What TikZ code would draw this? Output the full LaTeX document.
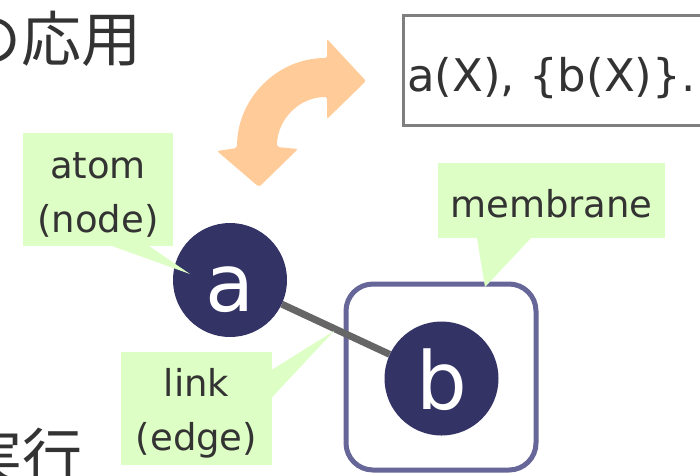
\documentclass[tikz,border=0pt]{standalone}
\usepackage{fontspec}
\setmainfont{DejaVu Sans}
\newfontfamily\cjkfont{Noto Sans CJK JP}
\usetikzlibrary{backgrounds,calc}
\definecolor{inktext}{HTML}{333333}
\definecolor{navy}{HTML}{333366}
\definecolor{membranec}{HTML}{666699}
\definecolor{linkgray}{HTML}{666666}
\definecolor{notegreen}{RGB}{221,254,196}
\definecolor{peach}{RGB}{255,204,153}
\definecolor{boxgray}{HTML}{7F7F7F}
\begin{document}
\begin{tikzpicture}[x=1pt,y=1pt,
  heading/.style={font=\cjkfont\fontsize{60}{60}\selectfont, text=inktext, inner sep=0pt},
  atomnode/.style={circle, fill=navy, text=white, minimum size=114pt, inner sep=0pt,
    font=\fontsize{80}{80}\selectfont, text height=62pt, text depth=0pt},
  membranebox/.style={draw=membranec, line width=5pt, rounded corners=27pt,
    minimum width=190pt, minimum height=186pt, inner sep=0pt},
  linkline/.style={draw=linkgray, line width=7pt},
  notebox/.style={fill=notegreen, inner sep=0pt, text=inktext, align=center,
    font=\fontsize{37}{54}\selectfont},
  notefill/.style={fill=notegreen},
  formulabox/.style={draw=boxgray, line width=3pt, minimum width=320pt,
    minimum height=110pt, inner sep=0pt},
  formulatext/.style={font=\fontsize{45}{45}\selectfont, text=inktext, inner sep=0pt},
  swaparrow/.style={fill=peach, rounded corners=2pt}]
\clip (0,0) rectangle (700,-475);

% headline and body text fragments
\node[heading, anchor=base east] (headline) at (142,-61) {の応用};
\node[heading, anchor=base west] (bodyline) at (-38,-478) {実行};

% program text in a frame
\node[formulabox, anchor=north west] (codebox) at (401.5,-13.5) {};
\node[formulatext, anchor=base west] (code) at (407,-91) {a(X), \{b(X)\}.};

% curved two-way arrow
\fill[swaparrow] (237,-148) arc[start angle=180, end angle=90, radius=90]
  -- (327,-39) -- (366,-81) -- (327,-119) -- (327,-97)
  arc[start angle=90, end angle=180, radius=50]
  -- (298,-149) -- (259,-187) -- (217,-151) -- cycle;

% atoms
\node[atomnode] (a) at (230,-280) {a};
\node[atomnode] (b) at (441.5,-378.5) {b};

% membrane and link
\begin{scope}[on background layer]
  \node[membranebox] (mem) at (441,-377) {};
  \draw[linkline] (a) -- (b);
\end{scope}

% callouts
\node[notebox, minimum width=150pt, minimum height=113pt] (atomnote) at (98,-189.5)
  {\rule{0pt}{37pt}atom\\(node)\rule[-6pt]{0pt}{6pt}};
\node[notebox, minimum width=227pt, minimum height=75pt] (membranenote) at (551.5,-200.5)
  {\rule{0pt}{39pt}membrane\rule[-6pt]{0pt}{6pt}};
\node[notebox, minimum width=151pt, minimum height=113pt] (linknote) at (196.5,-408.5)
  {\rule{0pt}{37pt}link\\(edge)\rule[-6pt]{0pt}{6pt}};

\coordinate (atomtip) at (190,-274);
\coordinate (membranetip) at (485,-287);
\coordinate (linktip) at (334,-331);

\fill[notefill] ([xshift=87pt,yshift=1pt]atomnote.south west)
  -- ([xshift=125pt,yshift=1pt]atomnote.south west) -- (atomtip) -- cycle;
\fill[notefill] ([xshift=39pt,yshift=1pt]membranenote.south west)
  -- ([xshift=94pt,yshift=1pt]membranenote.south west) -- (membranetip) -- cycle;
\fill[notefill] ([xshift=-1pt,yshift=95pt]linknote.south east)
  -- ([xshift=-1pt,yshift=67pt]linknote.south east) -- (linktip) -- cycle;
\end{tikzpicture}
\end{document}
